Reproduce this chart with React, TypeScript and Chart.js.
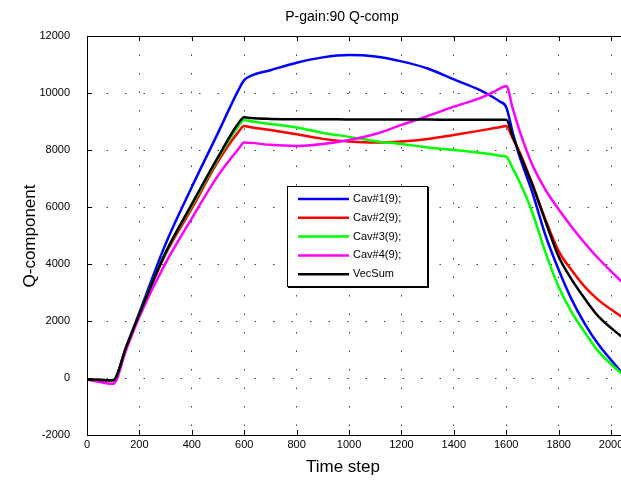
import React, { useEffect, useRef } from "react";
import { Chart, registerables } from "chart.js";

Chart.register(...registerables);

const timeSteps = [0, 100, 150, 200, 300, 400, 500, 575, 600, 625, 700, 800, 900, 1000, 1100, 1200, 1300, 1400, 1500, 1550, 1575, 1600, 1625, 1650, 1700, 1750, 1800, 1850, 1900, 1950, 2040];
const cav1 = [-50, -80, 1100, 2300, 4700, 6700, 8600, 10050, 10450, 10600, 10800, 11060, 11250, 11330, 11280, 11110, 10860, 10480, 10100, 9850, 9700, 9500, 8600, 7800, 6500, 5000, 3800, 2750, 1900, 1200, 200];
const cav2 = [-50, -80, 1100, 2250, 4350, 5950, 7600, 8600, 8840, 8800, 8700, 8550, 8390, 8300, 8260, 8300, 8390, 8530, 8680, 8760, 8800, 8840, 8400, 7950, 6800, 5550, 4450, 3780, 3200, 2750, 2150];
const cav3 = [-50, -80, 1100, 2250, 4400, 6050, 7700, 8800, 9050, 9010, 8910, 8790, 8600, 8460, 8310, 8210, 8090, 8000, 7900, 7840, 7800, 7770, 7350, 6900, 5800, 4400, 3200, 2300, 1600, 950, 150];
const cav4 = [-50, -200, 1000, 2150, 4030, 5600, 7100, 8000, 8260, 8250, 8180, 8140, 8210, 8350, 8560, 8880, 9190, 9520, 9820, 10030, 10150, 10250, 9450, 8700, 7470, 6600, 5920, 5300, 4730, 4210, 3380];
const vecSum = [-50, -80, 1100, 2250, 4400, 6100, 7750, 8900, 9150, 9120, 9090, 9080, 9080, 9070, 9070, 9070, 9070, 9060, 9060, 9060, 9060, 9060, 8470, 7890, 6770, 5490, 4260, 3450, 2780, 2180, 1450];

const xTickValues = [0, 200, 400, 600, 800, 1000, 1200, 1400, 1600, 1800, 2000];
const yTickValues = [-2000, 0, 2000, 4000, 6000, 8000, 10000, 12000];

const seriesLabels = ["Cav#1(9);", "Cav#2(9);", "Cav#3(9);", "Cav#4(9);", "VecSum"];
const seriesColors = ["#0000ff", "#ff0000", "#00ff00", "#ff00ff", "#000000"];
const seriesValues = [cav1, cav2, cav3, cav4, vecSum];

const titleText = "P-gain:90 Q-comp";
const xTitle = "Time step";
const yTitle = "Q-component";

const FONT = "'Liberation Sans', Arial, sans-serif";

const decorPlugin = {
  id: "decor",
  afterDraw(chart: any) {
    const ctx = chart.ctx;
    const area = chart.chartArea;
    const xs = chart.scales.x;
    const ys = chart.scales.y;
    ctx.save();
    ctx.strokeStyle = "#000";
    ctx.lineWidth = 1;
    ctx.beginPath();
    ctx.moveTo(area.left, area.top + 0.5);
    ctx.lineTo(area.right, area.top + 0.5);
    ctx.stroke();
    ctx.beginPath();
    xs.ticks.forEach((t: any) => {
      const px = Math.round(xs.getPixelForValue(t.value)) + 0.5;
      ctx.moveTo(px, area.bottom);
      ctx.lineTo(px, area.bottom - 5);
      ctx.moveTo(px, area.top);
      ctx.lineTo(px, area.top + 5);
    });
    ys.ticks.forEach((t: any) => {
      const py = Math.round(ys.getPixelForValue(t.value)) + 0.5;
      ctx.moveTo(area.left, py);
      ctx.lineTo(area.left + 5, py);
    });
    ctx.stroke();

    ctx.fillStyle = "#000";
    ctx.textAlign = "center";
    ctx.textBaseline = "middle";
    ctx.font = `14px ${FONT}`;
    ctx.fillText(titleText, 342, 17);
    ctx.font = `17px ${FONT}`;
    ctx.fillText(xTitle, 343, 467);
    ctx.save();
    ctx.translate(30, 236);
    ctx.rotate(-Math.PI / 2);
    ctx.fillText(yTitle, 0, 0);
    ctx.restore();

    const lx = 287, ly = 186, lw = 140, lh = 100;
    ctx.fillStyle = "#fff";
    ctx.fillRect(lx, ly, lw, lh);
    ctx.strokeStyle = "#000";
    ctx.lineWidth = 1;
    ctx.strokeRect(lx + 0.5, ly + 0.5, lw, lh);
    ctx.lineWidth = 2;
    ctx.beginPath();
    ctx.moveTo(lx + 1, ly + lh + 1);
    ctx.lineTo(lx + lw + 1, ly + lh + 1);
    ctx.lineTo(lx + lw + 1, ly + 1);
    ctx.stroke();
    ctx.font = `11px ${FONT}`;
    ctx.textAlign = "left";
    seriesLabels.forEach((lab, i) => {
      const y = 199 + i * 18.8;
      ctx.strokeStyle = seriesColors[i];
      ctx.lineWidth = 2.5;
      ctx.beginPath();
      ctx.moveTo(298, y);
      ctx.lineTo(349, y);
      ctx.stroke();
      ctx.fillStyle = "#000";
      ctx.fillText(lab, 353, y);
    });
    ctx.restore();
  },
};

export default function App() {
  const ref = useRef<HTMLCanvasElement | null>(null);
  useEffect(() => {
    document.body.style.margin = "0";
    const canvas = ref.current!;
    const chart = new Chart(canvas, {
      type: "line",
      data: {
        labels: timeSteps,
        datasets: seriesValues.map((vals, i) => ({
          label: seriesLabels[i],
          data: vals.map((v, j) => ({ x: timeSteps[j], y: v })),
          borderColor: seriesColors[i],
          backgroundColor: seriesColors[i],
          borderWidth: 2.5,
          borderJoinStyle: "round" as const,
          pointRadius: 0,
          cubicInterpolationMode: "monotone" as const,
          fill: false,
          order: 4 - i,
        })),
      },
      options: {
        responsive: false,
        animation: false,
        layout: { padding: { top: 36, right: 0, left: 0, bottom: 0 } },
        plugins: {
          legend: { display: false },
          title: { display: false },
          tooltip: { enabled: false },
        },
        scales: {
          x: {
            type: "linear",
            min: 0,
            max: 2038,
            afterBuildTicks(scale: any) {
              scale.ticks = xTickValues.map((v) => ({ value: v }));
            },
            ticks: {
              autoSkip: false,
              maxRotation: 0,
              padding: 3,
              color: "#000",
              font: { size: 11, family: FONT },
              callback: (v: any) => String(v),
            },
            grid: {
              drawTicks: false,
              color: "rgba(0,0,0,0.75)",
              lineWidth: 1,
            },
            border: { color: "#000", width: 1, dash: [1.5, 17] },
            afterFit(scale: any) {
              scale.height = 49;
              scale.paddingLeft = 0;
              scale.paddingRight = 0;
            },
          } as any,
          y: {
            min: -2000,
            max: 12000,
            afterBuildTicks(scale: any) {
              scale.ticks = yTickValues.map((v) => ({ value: v }));
            },
            ticks: {
              padding: 17,
              color: "#000",
              font: { size: 11, family: FONT },
              callback: (v: any) => String(v),
            },
            grid: {
              drawTicks: false,
              color: "rgba(0,0,0,0.75)",
              lineWidth: 1,
            },
            border: { color: "#000", width: 1, dash: [1.5, 17] },
            afterFit(scale: any) {
              scale.width = 87;
              scale.paddingTop = 0;
              scale.paddingBottom = 0;
            },
          } as any,
        },
      },
      plugins: [decorPlugin],
    });
    return () => chart.destroy();
  }, []);
  return <canvas ref={ref} width={621} height={484} style={{ display: "block", width: 621, height: 484 }} />;
}
